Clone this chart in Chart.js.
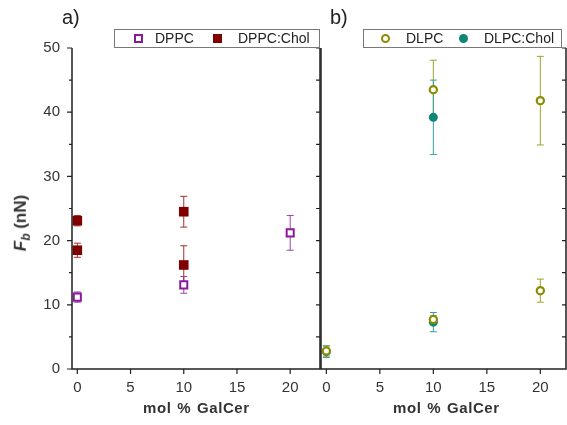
<!DOCTYPE html>
<html>
<head>
<meta charset="utf-8">
<script src="https://cdn.jsdelivr.net/npm/chart.js@4.4.0/dist/chart.umd.min.js"></script>
<style>
  body { margin: 0; background: #fff; font-family: "Liberation Sans", Arial, sans-serif; }
  #wrap { position: relative; width: 567px; height: 425px; overflow: hidden; }
  canvas { position: absolute; top: 0; }
  .lbl { position: absolute; color: #222; }
  .panel { font-size: 20px; top: 6px; }
  .xtitle { font-size: 15px; font-weight: bold; top: 399px; color: #333; letter-spacing: 0.6px; word-spacing: 1px; }
  .ytitle { font-size: 17px; font-weight: bold; color: #333; left: 22px; top: 223px;
            transform: translate(-50%, -50%) rotate(-90deg); white-space: nowrap; }
  .legend { position: absolute; top: 29px; height: 17px; border: 1px solid #777; background: #fff;
            font-size: 14px; color: #222; line-height: 17px; }
  .legend span { position: absolute; top: 0; }
  .mk { position: absolute; box-sizing: border-box; }
</style>
</head>
<body>
<div id="wrap">
  <canvas id="left" width="323" height="425" style="left:0;width:323px;height:425px"></canvas>
  <canvas id="right" width="257" height="425" style="left:310px;width:257px;height:425px"></canvas>

  <div class="lbl panel" style="left:62px">a)</div>
  <div class="lbl panel" style="left:330px">b)</div>

  <div class="legend" style="left:114px;width:204px">
    <div class="mk" style="left:19px;top:4px;width:9px;height:9px;border:2px solid #8b1a9b"></div>
    <span style="left:40px">DPPC</span>
    <div class="mk" style="left:98px;top:4px;width:9px;height:9px;background:#800000"></div>
    <span style="left:123px">DPPC:Chol</span>
  </div>
  <div class="legend" style="left:363px;width:197px">
    <div class="mk" style="left:17px;top:4px;width:9px;height:9px;border:2px solid #8c8c00;border-radius:50%"></div>
    <span style="left:42px">DLPC</span>
    <div class="mk" style="left:95px;top:4px;width:9px;height:9px;background:#0e8577;border-radius:50%"></div>
    <span style="left:120px">DLPC:Chol</span>
  </div>

  <div class="lbl xtitle" style="left:143px">mol % GalCer</div>
  <div class="lbl xtitle" style="left:393px">mol % GalCer</div>
  <div class="lbl ytitle"><i>F</i><sub style="font-size:12px"><i>b</i></sub> (nN)</div>
</div>

<script>
// axis ticks
const xTicks = [0, 5, 10, 15, 20];
const yTicks = [0, 10, 20, 30, 40, 50];
const yMinor = [5, 15, 25, 35, 45];

// panel a)
const dppcX = [0, 10, 20];
const dppcY = [11.2, 13.1, 21.2];
const dppcErr = [0.8, 1.3, 2.7];

const dppcCholX = [0, 0, 10, 10];
const dppcCholY = [23.1, 18.5, 24.5, 16.2];
const dppcCholErr = [0.8, 1.1, 2.4, 3.0];

// panel b)
const dlpcX = [0, 10, 10, 20, 20];
const dlpcY = [2.8, 43.5, 7.7, 41.8, 12.2];
const dlpcErr = [0.8, 4.6, 0.6, 6.9, 1.8];

const dlpcCholX = [0, 10, 10];
const dlpcCholY = [2.7, 39.2, 7.3];
const dlpcCholErr = [0.9, 5.8, 1.5];

const pts = (xs, ys, es) => xs.map((x, i) => ({ x: x, y: ys[i], err: es[i] }));

// error bars under the markers, axis frame and tick marks
const frame = {
  id: 'frame',
  beforeDatasetsDraw(chart) {
    const { ctx, scales: { x, y } } = chart;
    ctx.save();
    chart.data.datasets.forEach(ds => {
      ctx.strokeStyle = ds.errColor;
      ctx.lineWidth = 1;
      ds.data.forEach(p => {
        const px = x.getPixelForValue(p.x);
        const top = y.getPixelForValue(p.y + p.err);
        const bot = y.getPixelForValue(p.y - p.err);
        ctx.beginPath();
        ctx.moveTo(px, top); ctx.lineTo(px, bot);
        ctx.moveTo(px - 3.5, top); ctx.lineTo(px + 3.5, top);
        ctx.moveTo(px - 3.5, bot); ctx.lineTo(px + 3.5, bot);
        ctx.stroke();
      });
    });
    ctx.restore();
  },
  afterDraw(chart) {
    const { ctx, chartArea: a, scales: { x, y } } = chart;
    const opts = chart.options.plugins.frame;
    ctx.save();
    ctx.strokeStyle = '#222';
    ctx.lineWidth = 1.5;
    ctx.beginPath();
    ctx.moveTo(a.left, a.top); ctx.lineTo(a.left, a.bottom);
    ctx.lineTo(a.right, a.bottom); ctx.lineTo(a.right, a.top);
    ctx.stroke();
    ctx.lineWidth = 1.2;
    ctx.beginPath();
    xTicks.forEach(v => {
      const px = x.getPixelForValue(v);
      ctx.moveTo(px, a.bottom); ctx.lineTo(px, a.bottom + 5);
    });
    yTicks.concat(yMinor).forEach(v => {
      const py = y.getPixelForValue(v);
      if (opts.leftTicks) {
        const len = yMinor.includes(v) ? 3 : 5;
        ctx.moveTo(a.left, py); ctx.lineTo(a.left - len, py);
      }
      if (v > 0) {
        ctx.moveTo(a.right, py); ctx.lineTo(a.right - 4, py);
      }
    });
    ctx.stroke();
    ctx.restore();
  }
};

function makeChart(id, datasets, xMax, leftWidth, padRight, showY) {
  return new Chart(document.getElementById(id), {
    type: 'scatter',
    data: { datasets: datasets },
    options: {
      responsive: false,
      animation: false,
      layout: { autoPadding: false, padding: { top: 48, right: padRight, left: 0, bottom: 0 } },
      plugins: {
        legend: { display: false },
        tooltip: { enabled: false },
        frame: { leftTicks: showY }
      },
      scales: {
        x: {
          type: 'linear',
          min: -0.5,
          max: xMax,
          border: { display: false },
          grid: { display: false, drawTicks: false },
          afterBuildTicks: s => { s.ticks = xTicks.map(v => ({ value: v })) },
          afterFit: s => { s.height = 56; s.paddingLeft = 0; s.paddingRight = 0 },
          ticks: { padding: 10, color: '#333', font: { family: 'Liberation Sans', size: 15 } }
        },
        y: {
          min: 0,
          max: 50,
          border: { display: false },
          grid: { display: false, drawTicks: false },
          afterBuildTicks: s => { s.ticks = yTicks.map(v => ({ value: v })) },
          afterFit: s => { s.width = leftWidth; s.paddingTop = 0; s.paddingBottom = 0 },
          ticks: { display: showY, padding: 12, color: '#333', font: { family: 'Liberation Sans', size: 15 } }
        }
      }
    },
    plugins: [frame]
  });
}

makeChart('left', [
  {
    label: 'DPPC',
    data: pts(dppcX, dppcY, dppcErr),
    pointStyle: 'rect',
    pointRadius: 5,
    borderWidth: 2,
    borderColor: '#8b1a9b',
    backgroundColor: '#ffffff',
    errColor: '#a040b0'
  },
  {
    label: 'DPPC:Chol',
    data: pts(dppcCholX, dppcCholY, dppcCholErr),
    pointStyle: 'rect',
    pointRadius: 6.8,
    borderWidth: 0,
    borderColor: '#800000',
    backgroundColor: '#800000',
    errColor: '#a03030'
  }
], 22.8, 72, 3, true);

makeChart('right', [
  {
    label: 'DLPC',
    data: pts(dlpcX, dlpcY, dlpcErr),
    pointStyle: 'circle',
    pointRadius: 3.6,
    borderWidth: 2.2,
    borderColor: '#8c8c00',
    backgroundColor: '#ffffff',
    errColor: '#a0a030'
  },
  {
    label: 'DLPC:Chol',
    data: pts(dlpcCholX, dlpcCholY, dlpcCholErr),
    pointStyle: 'circle',
    pointRadius: 4.5,
    borderWidth: 0,
    borderColor: '#0e8577',
    backgroundColor: '#0e8577',
    errColor: '#3a9fa0'
  }
], 22.4, 11, 1, false);
</script>
</body>
</html>
